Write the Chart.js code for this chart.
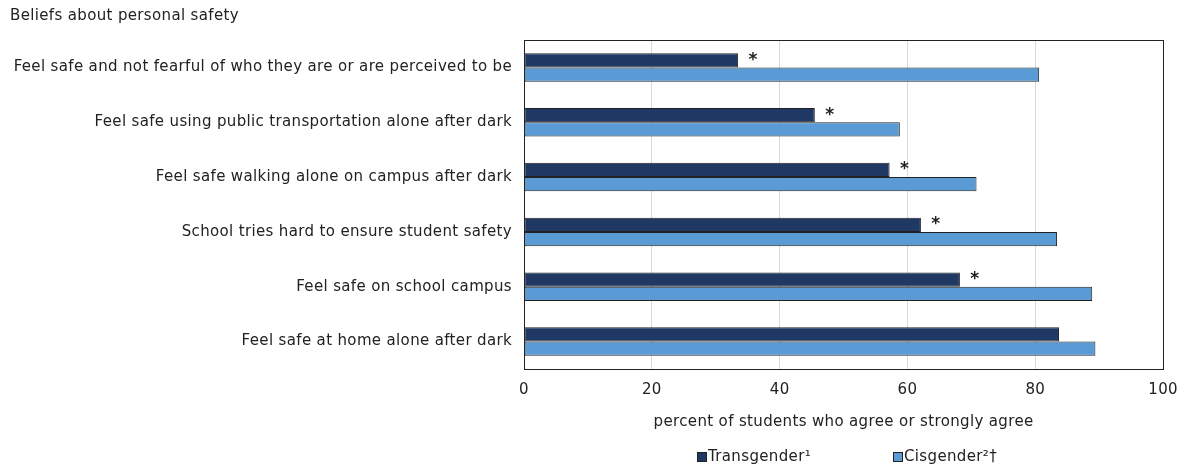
<!DOCTYPE html>
<html>
<head>
<meta charset="utf-8">
<script src="https://cdn.jsdelivr.net/npm/chart.js@4.4.1/dist/chart.umd.min.js"></script>
<style>
  body { margin: 0; background: #fff; }
  #wrap { width: 1190px; height: 468px; position: relative; }
</style>
</head>
<body>
<div id="wrap"><canvas id="chart"></canvas></div>
<script>
const categories = [
  "Feel safe and not fearful of who they are or are perceived to be",
  "Feel safe using public transportation alone after dark",
  "Feel safe walking alone on campus after dark",
  "School tries hard to ensure student safety",
  "Feel safe on school campus",
  "Feel safe at home alone after dark"
];
const transgender = [33.5, 45.5, 57.2, 62.1, 68.2, 83.7];
const cisgender = [80.6, 58.8, 70.8, 83.4, 88.9, 89.4];
const significant = [true, true, true, true, true, false];
const xTicks = [0, 20, 40, 60, 80, 100];
const seriesNames = ['Transgender\u00b9', 'Cisgender\u00b2\u2020'];
const seriesColors = ['#1f3864', '#5b9bd5'];

const FONT = "'DejaVu Sans', Verdana, sans-serif";
const SPACING = '0.35px';

// slightly wider letter spacing, like the original's Verdana rendering
const spacing = {
  id: 'spacing',
  beforeLayout(chart) { chart.ctx.letterSpacing = SPACING; },
  beforeDraw(chart) { chart.ctx.letterSpacing = SPACING; }
};

// title, plot frame, stars and the legend
const extras = {
  id: 'extras',
  afterDraw(chart) {
    const ctx = chart.ctx;
    const a = chart.chartArea;
    ctx.save();
    ctx.letterSpacing = SPACING;
    ctx.strokeStyle = '#222';
    ctx.lineWidth = 1;
    ctx.strokeRect(Math.round(a.left) + 0.5, Math.round(a.top) + 0.5, Math.round(a.right - a.left), Math.round(a.bottom - a.top));

    ctx.fillStyle = '#222';
    ctx.font = '15px ' + FONT;
    ctx.textBaseline = 'middle';
    ctx.textAlign = 'left';
    ctx.fillText('Beliefs about personal safety', 10, 16);

    const meta = chart.getDatasetMeta(0);
    ctx.font = 'bold 17px ' + FONT;
    ctx.textAlign = 'center';
    meta.data.forEach((bar, i) => {
      if (significant[i]) ctx.fillText('*', bar.x + 15, bar.y);
    });

    // legend
    const legendX = [697, 893];
    ctx.font = '15px ' + FONT;
    ctx.textAlign = 'left';
    seriesNames.forEach((name, i) => {
      const x = legendX[i];
      ctx.fillStyle = seriesColors[i];
      ctx.fillRect(x, 452, 9, 9);
      ctx.strokeStyle = '#222';
      ctx.strokeRect(x + 0.5, 452.5, 9, 9);
      ctx.fillStyle = '#222';
      ctx.fillText(name, x + 11, 457);
    });
    ctx.restore();
  }
};

new Chart(document.getElementById('chart'), {
  type: 'bar',
  data: {
    labels: categories,
    datasets: [
      {
        label: seriesNames[0],
        data: transgender,
        backgroundColor: seriesColors[0],
        borderColor: '#222',
        borderWidth: 1,
        borderSkipped: false
      },
      {
        label: seriesNames[1],
        data: cisgender,
        backgroundColor: seriesColors[1],
        borderColor: '#222',
        borderWidth: 1,
        borderSkipped: false
      }
    ]
  },
  options: {
    indexAxis: 'y',
    responsive: true,
    maintainAspectRatio: false,
    animation: false,
    layout: { padding: { top: 40, right: 26, left: 10, bottom: 33 } },
    datasets: { bar: { categoryPercentage: 0.52, barPercentage: 1 } },
    scales: {
      x: {
        min: 0,
        max: 100,
        afterBuildTicks(scale) { scale.ticks = xTicks.map(v => ({ value: v })); },
        grid: { color: '#d9d9d9', drawTicks: false },
        border: { color: '#222' },
        ticks: { color: '#222', font: { family: FONT, size: 15 }, padding: 12 },
        title: {
          display: true,
          text: 'percent of students who agree or strongly agree',
          color: '#222',
          font: { family: FONT, size: 15 },
          padding: { top: 2, bottom: 4 }
        }
      },
      y: {
        grid: { display: false, drawTicks: false },
        border: { color: '#222' },
        ticks: { color: '#222', font: { family: FONT, size: 15 }, padding: 12 },
        afterFit(scale) { scale.width = 514; }
      }
    },
    plugins: {
      legend: { display: false },
      tooltip: { enabled: false }
    }
  },
  plugins: [spacing, extras]
});
</script>
</body>
</html>
